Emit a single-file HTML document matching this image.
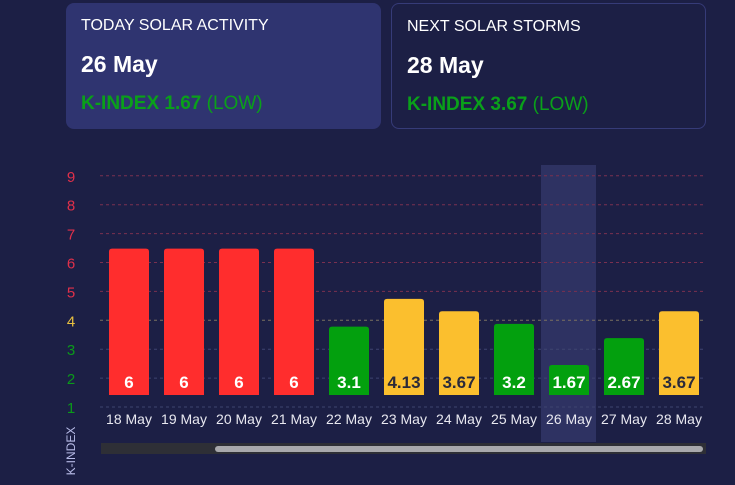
<!DOCTYPE html>
<html><head><meta charset="utf-8"><style>
body{margin:0;width:735px;height:485px;background:#1c1f45;font-family:"Liberation Sans",sans-serif;overflow:hidden;position:relative}
.card{position:absolute;top:3px;height:126px;border-radius:8px;box-sizing:border-box;color:#fff}
.t{position:absolute;left:15px;top:14px;font-size:16px}
.d{position:absolute;left:15px;top:48px;font-size:23px;font-weight:bold}
.k{position:absolute;left:15px;top:90px;font-size:19px;color:#0aa01a}
.k b{font-weight:bold}
</style></head><body>
<div class="card" style="left:66px;width:315px;background:#2f3470">
<div class="t">TODAY SOLAR ACTIVITY</div>
<div class="d">26 May</div>
<div class="k"><b>K-INDEX 1.67</b> (LOW)</div></div>
<div class="card" style="left:391px;width:315px;background:#1c1f45;border:1px solid #363b78">
<div class="t">NEXT SOLAR STORMS</div>
<div class="d">28 May</div>
<div class="k"><b>K-INDEX 3.67</b> (LOW)</div></div>
<svg id="c" width="735" height="485" style="position:absolute;left:0;top:0"></svg>
<script>
const categories=["18 May","19 May","20 May","21 May","22 May","23 May","24 May","25 May","26 May","27 May","28 May"];
const values=[6,6,6,6,3.1,4.13,3.67,3.2,1.67,2.67,3.67];
const labels=["6","6","6","6","3.1","4.13","3.67","3.2","1.67","2.67","3.67"];
const ticks=[1,2,3,4,5,6,7,8,9];
const highlight="26 May";
const NS="http://www.w3.org/2000/svg";
const svg=document.getElementById('c');
function y(v){return 407-(v-1)*28.9;}
function x(i){return 129+i*55;}
function mk(t,a,p){const e=document.createElementNS(NS,t);for(const k in a)e.setAttribute(k,a[k]);(p||svg).appendChild(e);return e;}
function tc(v){return v>=5?"#e0304a":v>=4?"#e8c040":"#0a9a1a";}
function bc(v){return v>=5?"#ff2d2d":v>=3.5?"#fbbf2e":"#03a00e";}
// highlight
const hi=categories.indexOf(highlight);
if(hi>=0){const h=mk('rect',{x:x(hi)-28,y:165,width:55,height:277,fill:'#2e3262'});

}
ticks.forEach(v=>{
const g=mk('line',{x1:100,x2:706,y1:y(v),y2:y(v),stroke:v>=5?'#7a3050':v>=4?'#7a7060':'#3e4470','stroke-dasharray':'3,3','stroke-width':1});


const t=mk('text',{x:71,y:y(v)+6,'font-size':15,fill:tc(v),'text-anchor':'middle'});t.textContent=v;


});
categories.forEach((c,i)=>{
const v=values[i];const top=y(0.93*v+0.9);
const b=mk('path',{d:`M${x(i)-20},395 V${top+3} Q${x(i)-20},${top} ${x(i)-17},${top} H${x(i)+17} Q${x(i)+20},${top} ${x(i)+20},${top+3} V395 Z`,fill:bc(v)});


const l=mk('text',{x:x(i),y:388,'font-size':17,'font-weight':'bold',fill:bc(v)=="#fbbf2e"?'#2a2a3a':'#fff','text-anchor':'middle'});l.textContent=labels[i];


const d=mk('text',{x:x(i),y:424,'font-size':14,fill:'#e8e8f0','text-anchor':'middle'});d.textContent=c;


});
const yt=mk('text',{x:0,y:0,'font-size':12,fill:'#b8bce8','text-anchor':'middle',transform:'translate(75,451) rotate(-90)'});yt.textContent='K-INDEX';


const tr=mk('rect',{x:101,y:443,width:605,height:11,fill:'#2e2f36'});


const th=mk('rect',{x:215,y:446,width:488,height:6,rx:3,fill:'#a8a8ac'});


</script>
</body></html>
